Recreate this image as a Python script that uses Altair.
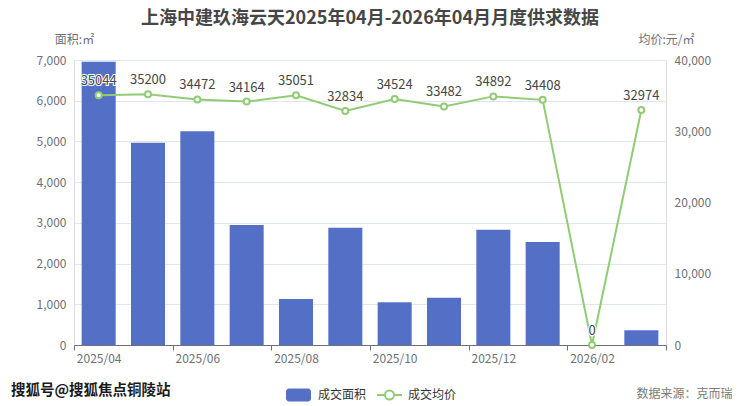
import altair as alt
import pandas as pd

months = ['2025/04', '2025/05', '2025/06', '2025/07', '2025/08', '2025/09',
          '2025/10', '2025/11', '2025/12', '2026/01', '2026/02', '2026/03']
area = [6960, 4970, 5250, 2950, 1130, 2880, 1050, 1160, 2830, 2530, 0, 360]
price = [35044, 35200, 34472, 34164, 35051, 32834, 34524, 33482, 34892, 34408, 0, 32974]
shown_labels = ['2025/04', '2025/06', '2025/08', '2025/10', '2025/12', '2026/02']
tick_months = ['2025/05', '2025/07', '2025/09', '2025/11', '2026/01', '2026/03']
area_ticks = [0, 1000, 2000, 3000, 4000, 5000, 6000, 7000]
price_ticks = [0, 10000, 20000, 30000, 40000]

title = '上海中建玖海云天2025年04月-2026年04月月度供求数据'
watermark = ['搜狐号@搜狐焦点铜陵站']

df = pd.DataFrame({
    'month': months,
    'area': area,
    'price': price,
    's1': ['成交面积'] * len(months),
    's2': ['成交均价'] * len(months),
})

FONT = 'Noto Sans CJK SC'
AXC = '#6e7079'
GRID = '#e0e6f1'
BLUE = '#5470c6'
GREEN = '#91cc75'

label_list = "[" + ",".join("'%s'" % m for m in shown_labels) + "]"
tick_list = "[" + ",".join("'%s'" % m for m in tick_months) + "]"

x_enc = alt.X(
    'month:N', sort=months,
    scale=alt.Scale(paddingInner=0, paddingOuter=0),
    axis=alt.Axis(
        title='数据来源：克而瑞', titleX=658, titleY=52, titleAlign='right',
        titleBaseline='alphabetic', titleFontWeight='normal', titleFontSize=12,
        titleColor='#7a7a7a', titleFont=FONT,
        labelExpr="indexof(%s, datum.value) >= 0 ? datum.label : ''" % label_list,
        labelAngle=0, labelFontSize=12, labelColor=AXC, labelFont=FONT,
        labelPadding=3,
        tickBand='extent', tickSize=5, tickColor=AXC, domainColor=AXC,
        tickOpacity={'condition': {'test': "datum.index < 0 || indexof(%s, datum.value) >= 0" % tick_list,
                                   'value': 1}, 'value': 0},
        grid=False,
    ),
)

rect_path = ("M-0.76,-0.52 H0.76 A0.24,0.24 0 0 1 1,-0.28 V0.28 A0.24,0.24 0 0 1 0.76,0.52 "
             "H-0.76 A0.24,0.24 0 0 1 -1,0.28 V-0.28 A0.24,0.24 0 0 1 -0.76,-0.52 Z")
line_path = ("M-1,0 H-0.36 M0.36,0 H1 M0.36,0 A0.36,0.36 0 1 1 -0.36,0 "
             "A0.36,0.36 0 1 1 0.36,0")

base = alt.Chart(df)

bars = base.mark_bar(width=alt.RelativeBandSize(0.69)).encode(
    x=x_enc,
    y=alt.Y('area:Q', scale=alt.Scale(domain=[0, 7000], nice=False),
            axis=alt.Axis(title='面积:㎡', titleAngle=0, titleX=0, titleY=-17,
                          titleAlign='center', titleBaseline='alphabetic',
                          titleFontWeight='normal', titleFontSize=12, titleColor=AXC,
                          titleFont=FONT, values=area_ticks, format=',.0f',
                          domain=False, ticks=False, labelPadding=8,
                          labelFontSize=12, labelColor=AXC, labelFont=FONT,
                          gridColor=GRID)),
    fill=alt.Fill('s1:N', scale=alt.Scale(domain=['成交面积'], range=[BLUE]),
                  legend=alt.Legend(title=None, orient='none', legendX=211, legendY=321.5,
                                    symbolType=rect_path, symbolSize=625,
                                    labelFontSize=12, labelColor='#333', labelFont=FONT,
                                    labelOffset=6, padding=0)),
)

y_price = alt.Y('price:Q', scale=alt.Scale(domain=[0, 40000], nice=False),
                axis=alt.Axis(title='均价:元/㎡', orient='right', titleAngle=0, titleX=0,
                              titleY=-17, titleAlign='center', titleBaseline='alphabetic',
                              titleFontWeight='normal', titleFontSize=12, titleColor=AXC,
                              titleFont=FONT, values=price_ticks, format=',.0f',
                              domain=False, ticks=False, labelPadding=8,
                              labelFontSize=12, labelColor=AXC, labelFont=FONT,
                              gridColor=GRID))

line = base.mark_line(strokeWidth=2).encode(
    x=x_enc,
    y=y_price,
    stroke=alt.Stroke('s2:N', scale=alt.Scale(domain=['成交均价'], range=[GREEN]),
                      legend=alt.Legend(title=None, orient='none', legendX=302, legendY=321.5,
                                        symbolType=line_path, symbolSize=625,
                                        symbolStrokeWidth=2, symbolFillColor='white',
                                        labelFontSize=12, labelColor='#333', labelFont=FONT,
                                        labelOffset=5, padding=0)),
)

points = base.mark_point(filled=True, fill='white', stroke=GREEN, strokeWidth=2,
                         size=36, opacity=1).encode(x=x_enc, y=y_price)

halo = base.mark_text(dy=-10, baseline='alphabetic', fontSize=13, font=FONT,
                      stroke='white', strokeWidth=2, fill='white').encode(
    x=x_enc, y=y_price, text='price:Q')
labels = base.mark_text(dy=-10, baseline='alphabetic', fontSize=13, font=FONT,
                        color='#464646').encode(x=x_enc, y=y_price, text='price:Q')

price_layer = alt.layer(line, points, halo, labels)

wm_df = pd.DataFrame({'t': watermark})
wm_halo = alt.Chart(wm_df).mark_text(align='left', baseline='alphabetic', fontSize=14.5,
                                     font=FONT, fontWeight='bold', stroke='white',
                                     strokeWidth=3, fill='white').encode(
    x=alt.value(-63), y=alt.value(334.5), text='t:N')
wm = alt.Chart(wm_df).mark_text(align='left', baseline='alphabetic', fontSize=14.5,
                                font=FONT, fontWeight='bold', color='#1a1a1a').encode(
    x=alt.value(-63), y=alt.value(334.5), text='t:N')

chart = alt.layer(bars, price_layer, wm_halo, wm).resolve_scale(
    y='independent', fill='independent', stroke='independent'
).properties(
    width=592, height=285,
    title=alt.TitleParams(title, fontSize=18, fontWeight='bold', color='#464646',
                          font=FONT, anchor='middle', frame='group', offset=5),
    padding={'left': 66, 'top': 52, 'right': 66, 'bottom': 60},
    autosize=alt.AutoSizeParams(type='none'),
).configure_view(stroke=None).configure(font=FONT)

chart.save('out.html', embed_options={'renderer': 'svg', 'actions': False})
